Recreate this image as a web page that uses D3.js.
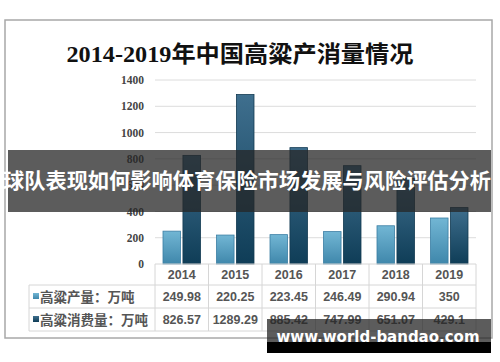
<!DOCTYPE html>
<html lang="zh">
<head>
<meta charset="UTF-8">
<title>2014-2019年中国高粱产消量情况</title>
<style>
  body { margin: 0; background: #fff; }
  svg { display: block; }
</style>
</head>
<body>
<div class="canvas"></div>
<script src="https://cdnjs.cloudflare.com/ajax/libs/d3/7.8.5/d3.min.js"></script>
<script>
const years = ["2014", "2015", "2016", "2017", "2018", "2019"];
const production = [249.98, 220.25, 223.45, 246.49, 290.94, 350];
const consumption = [826.57, 1289.29, 885.42, 747.99, 651.07, 429.1];
const seriesNames = ["高粱产量：万吨", "高粱消费量：万吨"];
const yTicks = [0, 200, 400, 600, 800, 1000, 1200, 1400];

const title = "2014-2019年中国高粱产消量情况";
const banner = "球队表现如何影响体育保险市场发展与风险评估分析";
const watermark = "www.world-bandao.com";

const W = 500, H = 362;
const plot = { left: 155, right: 476, top: 80, bottom: 264 };

const svg = d3.select(".canvas").append("svg")
    .attr("width", W)
    .attr("height", H);

const defs = svg.append("defs");
const grads = [
    { id: "gLight", top: "#72b6d4", bottom: "#3f87ab" },
    { id: "gDark", top: "#3f6f8e", bottom: "#0f3d57" }
];
grads.forEach(g => {
    const lg = defs.append("linearGradient").attr("id", g.id)
        .attr("x1", 0).attr("y1", 0).attr("x2", 0).attr("y2", 1);
    lg.append("stop").attr("offset", "0%").attr("stop-color", g.top);
    lg.append("stop").attr("offset", "100%").attr("stop-color", g.bottom);
});

// chart frame
svg.append("rect")
    .attr("x", 5).attr("y", 20)
    .attr("width", 487).attr("height", 318)
    .attr("fill", "#fff")
    .attr("stroke", "#a8a8a8")
    .attr("stroke-width", 1.5);

svg.append("text")
    .attr("x", 240).attr("y", 62)
    .attr("text-anchor", "middle")
    .attr("font-family", "'Liberation Serif', 'Noto Sans CJK SC', serif")
    .attr("font-size", 23)
    .attr("font-weight", "bold")
    .attr("fill", "#111")
    .attr("textLength", 347)
    .attr("lengthAdjust", "spacingAndGlyphs")
    .text(title);

const x = d3.scaleBand().domain(years).range([plot.left, plot.right]).padding(0);
const x1 = d3.scaleBand().domain([0, 1]).range([8, x.bandwidth() - 8]).paddingInner(0.12);
const y = d3.scaleLinear().domain([0, 1400]).range([plot.bottom, plot.top]);

// gridlines
svg.append("g")
    .selectAll("line")
    .data(yTicks.slice(1))
    .join("line")
        .attr("x1", plot.left).attr("x2", plot.right)
        .attr("y1", d => y(d)).attr("y2", d => y(d))
        .attr("stroke", "#dcdcdc");

// y axis labels
const yAxis = svg.append("g")
    .attr("transform", `translate(${plot.left},0)`)
    .call(d3.axisLeft(y).tickValues(yTicks).tickFormat(d3.format("d")).tickSize(0).tickPadding(11));
yAxis.select(".domain").remove();
yAxis.selectAll("text")
    .attr("font-family", "'Liberation Serif', serif")
    .attr("font-weight", "bold")
    .attr("font-size", 11.5)
    .attr("fill", "#444");

// bars
const series = [production, consumption];
const fills = ["url(#gLight)", "url(#gDark)"];
const strokes = ["#3b7ea3", "#123a52"];
series.forEach((vals, si) => {
    svg.append("g")
        .selectAll("rect")
        .data(vals)
        .join("rect")
            .attr("x", (d, i) => x(years[i]) + x1(si))
            .attr("y", d => y(d))
            .attr("width", x1.bandwidth())
            .attr("height", d => y(0) - y(d))
            .attr("fill", fills[si])
            .attr("stroke", strokes[si])
            .attr("stroke-width", 0.8);
});

// data table
const tableLeft = 29;
const rowY = [264, 285, 308, 331];
const grid = svg.append("g").attr("stroke", "#d6d6d6").attr("stroke-width", 1);
grid.selectAll("line.h")
    .data(rowY)
    .join("line")
        .attr("x1", (d, i) => i === 0 ? plot.left : tableLeft)
        .attr("x2", plot.right)
        .attr("y1", d => d).attr("y2", d => d);
const colX = years.map(yr => x(yr)).concat([plot.right]);
grid.selectAll("line.v")
    .data(colX)
    .join("line")
        .attr("x1", d => d).attr("x2", d => d)
        .attr("y1", rowY[0]).attr("y2", rowY[3]);
grid.append("line")
    .attr("x1", tableLeft).attr("x2", tableLeft)
    .attr("y1", rowY[1]).attr("y2", rowY[3]);

const cellFont = "'Liberation Sans', 'Noto Sans CJK SC', sans-serif";
svg.append("g")
    .selectAll("text")
    .data(years)
    .join("text")
        .attr("x", d => x(d) + x.bandwidth() / 2)
        .attr("y", (rowY[0] + rowY[1]) / 2 + 4.5)
        .attr("text-anchor", "middle")
        .attr("font-family", cellFont)
        .attr("font-size", 12.5)
        .attr("font-weight", "bold")
        .attr("fill", "#555")
        .text(d => d);

series.forEach((vals, si) => {
    const cy = (rowY[si + 1] + rowY[si + 2]) / 2;
    svg.append("g")
        .selectAll("text")
        .data(vals)
        .join("text")
            .attr("x", (d, i) => x(years[i]) + x.bandwidth() / 2)
            .attr("y", cy + 4.5)
            .attr("text-anchor", "middle")
            .attr("font-family", cellFont)
            .attr("font-size", 12.5)
            .attr("font-weight", "bold")
            .attr("fill", "#555")
            .text(d => String(d));
    svg.append("rect")
        .attr("x", 33).attr("y", cy - 3.5)
        .attr("width", 6).attr("height", 6)
        .attr("fill", fills[si]);
    svg.append("text")
        .attr("x", 40).attr("y", cy + 5)
        .attr("font-family", "'Noto Sans CJK SC', sans-serif")
        .attr("font-size", 13.5)
        .attr("font-weight", "bold")
        .attr("fill", "#555")
        .text(seriesNames[si]);
});

// overlay banner
svg.append("rect")
    .attr("x", 8).attr("y", 150)
    .attr("width", 483).attr("height", 62)
    .attr("fill", "rgba(38,38,38,0.75)");
svg.append("text")
    .attr("x", 247).attr("y", 188)
    .attr("text-anchor", "middle")
    .attr("font-family", "'Noto Sans CJK SC', sans-serif")
    .attr("font-size", 21)
    .attr("font-weight", "bold")
    .attr("fill", "#fff")
    .attr("textLength", 488)
    .attr("lengthAdjust", "spacingAndGlyphs")
    .text(banner);

// watermark
svg.append("rect")
    .attr("x", 267).attr("y", 319)
    .attr("width", 224).attr("height", 23)
    .attr("fill", "rgba(38,38,38,0.75)");
svg.append("rect")
    .attr("x", 267).attr("y", 342)
    .attr("width", 224).attr("height", 11)
    .attr("fill", "#000");
svg.append("text")
    .attr("x", 378).attr("y", 342)
    .attr("text-anchor", "middle")
    .attr("font-family", "'DejaVu Sans', sans-serif")
    .attr("font-size", 16)
    .attr("font-weight", "bold")
    .attr("fill", "#fff")
    .attr("textLength", 203)
    .attr("lengthAdjust", "spacingAndGlyphs")
    .text(watermark);
</script>
</body>
</html>
